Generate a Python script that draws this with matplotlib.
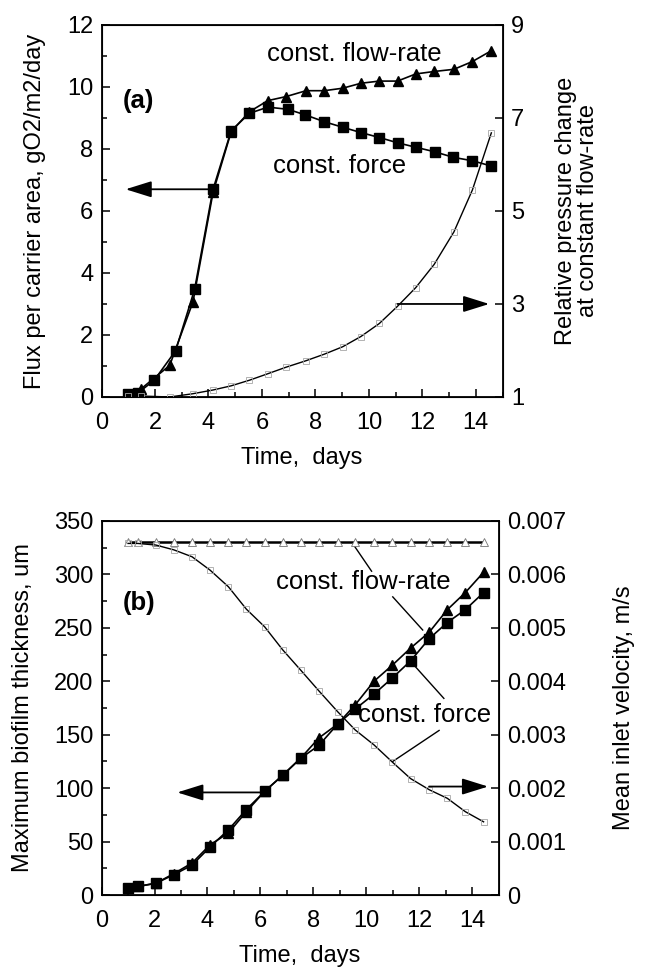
import numpy as np
import matplotlib
matplotlib.use("Agg")
import matplotlib.pyplot as plt
from matplotlib.ticker import MultipleLocator, FixedLocator, FuncFormatter

plt.rcParams["font.family"] = ["Liberation Sans", "DejaVu Sans"]
plt.rcParams["font.size"] = 17

# ---- panel (a): flux per carrier area and pressure change ----
t_force_a = [1.0, 1.35, 1.97, 2.77, 3.48, 4.17, 4.85, 5.53, 6.22, 6.97, 7.62,
             8.33, 9.02, 9.70, 10.39, 11.07, 11.78, 12.46, 13.16, 13.87, 14.58]
flux_force = [0.08, 0.12, 0.54, 1.49, 3.47, 6.70, 8.59, 9.15, 9.35, 9.28, 9.10,
              8.88, 8.70, 8.53, 8.37, 8.20, 8.05, 7.91, 7.73, 7.62, 7.45]

t_flow_a = [1.0, 1.49, 2.55, 3.42, 4.17, 4.85, 5.53, 6.22, 6.90, 7.65, 8.33,
            9.02, 9.70, 10.39, 11.07, 11.75, 12.44, 13.18, 13.87, 14.58]
flux_flow = [0.06, 0.27, 1.02, 3.07, 6.60, 8.56, 9.20, 9.56, 9.69, 9.88, 9.88,
             9.96, 10.12, 10.19, 10.19, 10.42, 10.50, 10.57, 10.82, 11.17]
p_ratio = [1.03, 1.02, 1.00, 1.07, 1.15, 1.24, 1.36, 1.50, 1.64, 1.78, 1.92,
           2.08, 2.30, 2.58, 2.95, 3.35, 3.85, 4.55, 5.45, 6.68]

# ---- panel (b): biofilm thickness and inlet velocity ----
t_b = [1.0, 1.37, 2.05, 2.73, 3.42, 4.10, 4.79, 5.47, 6.16, 6.84, 7.52,
       8.21, 8.92, 9.58, 10.29, 10.98, 11.67, 12.38, 13.06, 13.74, 14.43]
thick_force = [7, 8, 11, 19, 28, 45, 61, 80, 97, 112, 128,
               140, 160, 174, 188, 203, 219, 240, 255, 267, 283]
thick_flow = [7, 8, 11, 20, 30, 47, 58, 78, 97, 112, 128,
              147, 160, 178, 200, 215, 231, 246, 267, 283, 302]
vel_force = [0.00658, 0.00658, 0.00655, 0.00646, 0.00633, 0.00608, 0.00577,
             0.00535, 0.00502, 0.00459, 0.00421, 0.00382, 0.00343, 0.00309,
             0.00281, 0.00249, 0.00218, 0.00197, 0.00181, 0.00156, 0.00137]
vel_flow = [0.0066] * 21

fig = plt.figure(figsize=(6.51, 9.72), dpi=100)

TICK = 17
LAB = 17
ANN = 18.5


def style(ax, ymaj, ymin):
    ax.set_xlim(0, 15)
    ax.xaxis.set_major_locator(MultipleLocator(2))
    ax.xaxis.set_minor_locator(MultipleLocator(1))
    ax.yaxis.set_major_locator(MultipleLocator(ymaj))
    ax.yaxis.set_minor_locator(MultipleLocator(ymin))
    ax.tick_params(which="both", direction="in", top=False, right=False,
                   width=1.1, labelsize=TICK, pad=6)
    ax.tick_params(axis="x", which="both", pad=11)
    ax.tick_params(which="major", length=6)
    ax.tick_params(which="minor", length=3.5)
    for s in ax.spines.values():
        s.set_linewidth(1.3)


def arrow(ax, head, tail):
    ax.annotate("", xy=head, xytext=tail,
                arrowprops=dict(arrowstyle="-|>,head_length=0.8,head_width=0.25",
                                lw=1.3, color="k", mutation_scale=20,
                                shrinkA=0, shrinkB=0))


# ================= (a) =================
ax1 = fig.add_axes([0.156, 0.5916, 0.616, 0.3827])
style(ax1, 2, 1)
ax1.set_ylim(0, 12)
ax1.plot(t_flow_a, flux_flow, "-^", color="k", ms=7, lw=1.2)
ax1.plot(t_force_a, flux_force, "-s", color="k", ms=7, lw=1.2)
ax1.set_xlabel("Time,  days", fontsize=LAB, labelpad=9)
ax1.set_ylabel("Flux per carrier area, gO2/m2/day", fontsize=LAB, labelpad=15)

ax1r = ax1.twinx()
ax1r.set_ylim(1, 9)
ax1r.yaxis.set_major_locator(FixedLocator([1, 3, 5, 7, 9]))
ax1r.tick_params(direction="in", length=6, width=1.1, labelsize=TICK, pad=6)
ax1r.plot(t_flow_a, p_ratio, "-", color="k", lw=1.0)
ax1r.plot(t_flow_a, p_ratio, "s", mfc="none", mec="0.65", ms=5, mew=0.6)
ax1r.set_ylabel("Relative pressure change\nat constant flow-rate",
                fontsize=LAB, labelpad=22, linespacing=1.0)

ax1.text(0.8, 9.55, "(a)", fontsize=ANN, fontweight="bold", va="center")
ax1.text(9.45, 11.05, "const. flow-rate", fontsize=ANN, ha="center", va="center")
ax1.text(8.9, 7.45, "const. force", fontsize=ANN, ha="center", va="center")
arrow(ax1, (0.9, 6.7), (4.17, 6.7))
arrow(ax1r, (14.5, 3.0), (11.07, 3.0))

# ================= (b) =================
ax2 = fig.add_axes([0.156, 0.0792, 0.610, 0.3848])
style(ax2, 50, 25)
ax2.set_ylim(0, 350)
ax2.plot(t_b, thick_flow, "-^", color="k", ms=7, lw=1.2)
ax2.plot(t_b, thick_force, "-s", color="k", ms=7, lw=1.2)
ax2.set_xlabel("Time,  days", fontsize=LAB, labelpad=9)
ax2.set_ylabel("Maximum biofilm thickness, um", fontsize=LAB, labelpad=14)

ax2r = ax2.twinx()
ax2r.set_ylim(0, 0.007)
ax2r.yaxis.set_major_locator(MultipleLocator(0.001))
ax2r.yaxis.set_major_formatter(FuncFormatter(lambda v, p: "{:g}".format(round(v, 4))))
ax2r.tick_params(direction="in", length=6, width=1.1, labelsize=TICK, pad=6)
ax2r.plot(t_b, vel_flow, "-", color="k", lw=1.8)
ax2r.plot(t_b, vel_flow, "^", mfc="white", mec="0.45", ms=5.5, mew=0.6)
ax2r.plot(t_b, vel_force, "-", color="k", lw=1.0)
ax2r.plot(t_b, vel_force, "s", mfc="none", mec="0.65", ms=5, mew=0.6)
ax2r.set_ylabel("Mean inlet velocity, m/s", fontsize=LAB, labelpad=34)

ax2.text(0.8, 273, "(b)", fontsize=ANN, fontweight="bold", va="center")
ax2.text(9.9, 293, "const. flow-rate", fontsize=ANN, ha="center", va="center")
ax2.text(12.2, 168, "const. force", fontsize=ANN, ha="center", va="center")
# leader lines
ax2.plot([9.51, 10.2], [328, 303], color="k", lw=1.0)
ax2.plot([11.0, 12.13], [279, 248], color="k", lw=1.0)
ax2.plot([11.66, 12.93], [219, 184], color="k", lw=1.0)
ax2.plot([12.75, 11.0], [154, 125], color="k", lw=1.0)
arrow(ax2, (2.86, 96), (6.16, 96))
arrow(ax2r, (14.6, 0.00203), (12.37, 0.00203))

fig.savefig("out.png", dpi=100)
